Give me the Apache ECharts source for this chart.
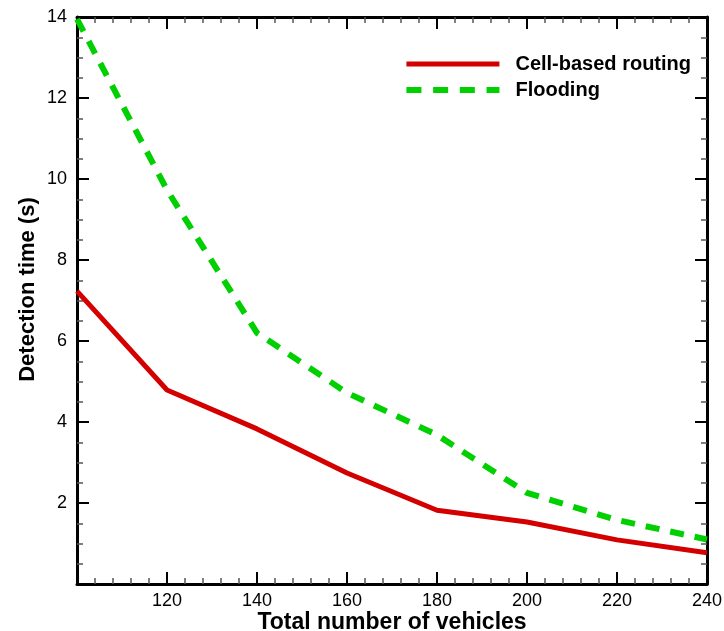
<!DOCTYPE html>
<html>
<head>
<meta charset="utf-8">
<script src="https://cdn.jsdelivr.net/npm/echarts@6/dist/echarts.min.js"></script>
<style>
  html, body { margin: 0; padding: 0; background: #fff; }
  #chart { width: 724px; height: 631px; }
</style>
</head>
<body>
<div id="chart"></div>
<script>
// vehicles on x axis
const vehicles = [100, 120, 140, 160, 180, 200, 220, 240]
// detection time (s)
const cellBased = [7.23, 4.79, 3.83, 2.74, 1.82, 1.53, 1.09, 0.77]
const flooding = [13.95, 9.73, 6.2, 4.72, 3.68, 2.25, 1.58, 1.1]
const seriesNames = ['Cell-based routing', 'Flooding']

const chart = echarts.init(document.getElementById('chart'))

const font = 'Liberation Sans, Arial, sans-serif'

const axisCommon = {
  axisLine: { show: true, onZero: false, lineStyle: { color: '#000', width: 3 } },
  axisTick: { show: true, inside: true, length: 12, lineStyle: { color: '#000', width: 2 } },
  minorTick: { show: true, length: 6, lineStyle: { color: '#555', width: 1.5 } },
  splitLine: { show: false }
}

const option = {
  animation: false,
  grid: { left: 77, right: 17, top: 17, bottom: 47, containLabel: false, outerBoundsMode: 'none' },
  legend: {
    right: 28,
    top: 49,
    orient: 'vertical',
    itemWidth: 93,
    itemHeight: 12,
    itemGap: 6,
    textStyle: { fontFamily: font, fontWeight: 'bold', fontSize: 20, color: '#000', padding: [0, 0, 0, 11] },
    data: [
      {
        name: seriesNames[0],
        itemStyle: { opacity: 0 },
        lineStyle: { color: '#d40000', width: 5 }
      },
      {
        name: seriesNames[1],
        itemStyle: { opacity: 0 },
        lineStyle: { color: '#00d000', width: 6, type: [15, 11.7] }
      }
    ]
  },
  xAxis: [
    Object.assign({}, axisCommon, {
      type: 'value', min: 100, max: 240, interval: 20,
      minorTick: Object.assign({}, axisCommon.minorTick, { splitNumber: 5 }),
      axisLabel: {
        color: '#000', fontFamily: font, fontSize: 18, margin: 8,
        formatter: v => (v === 100 ? '' : v)
      },
      name: 'Total number of vehicles',
      nameLocation: 'middle',
      nameGap: 27,
      nameMoveOverlap: false,
      nameTextStyle: { fontFamily: font, fontWeight: 'bold', fontSize: 23, color: '#000' }
    }),
    Object.assign({}, axisCommon, {
      type: 'value', min: 100, max: 240, interval: 20, position: 'top',
      minorTick: Object.assign({}, axisCommon.minorTick, { splitNumber: 5 }),
      axisLabel: { show: false }
    })
  ],
  yAxis: [
    Object.assign({}, axisCommon, {
      type: 'value', min: 0, max: 14, interval: 2,
      minorTick: Object.assign({}, axisCommon.minorTick, { splitNumber: 4 }),
      axisLabel: {
        color: '#000', fontFamily: font, fontSize: 18, margin: 10,
        formatter: v => (v === 0 ? '' : v)
      },
      name: 'Detection time (s)',
      nameLocation: 'middle',
      nameGap: 38,
      nameMoveOverlap: false,
      nameTextStyle: { fontFamily: font, fontWeight: 'bold', fontSize: 22, color: '#000', padding: [0, 0, 0, 22] }
    }),
    Object.assign({}, axisCommon, {
      type: 'value', min: 0, max: 14, interval: 2, position: 'right',
      minorTick: Object.assign({}, axisCommon.minorTick, { splitNumber: 4 }),
      axisLabel: { show: false }
    })
  ],
  series: [
    {
      name: seriesNames[0],
      type: 'line',
      symbol: 'none',
      data: vehicles.map((v, i) => [v, cellBased[i]]),
      lineStyle: { color: '#d40000', width: 5 },
      itemStyle: { color: '#d40000' }
    },
    {
      name: seriesNames[1],
      type: 'line',
      symbol: 'none',
      data: vehicles.map((v, i) => [v, flooding[i]]),
      lineStyle: { color: '#00d000', width: 6, type: [14, 11] },
      itemStyle: { color: '#00d000' }
    }
  ]
}

chart.setOption(option)
</script>
</body>
</html>
